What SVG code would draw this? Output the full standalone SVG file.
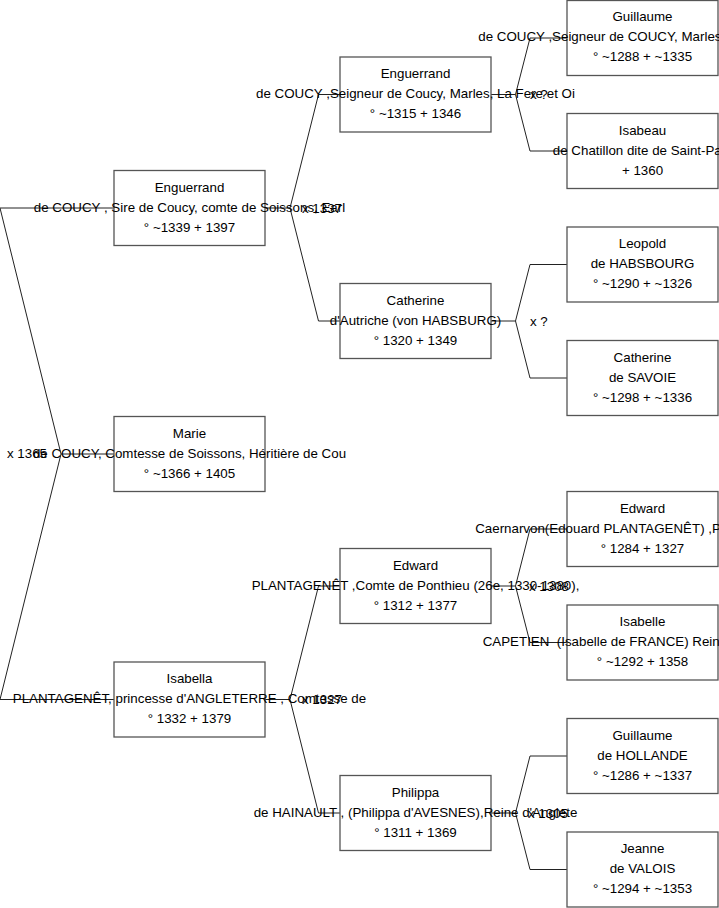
<svg xmlns="http://www.w3.org/2000/svg" width="719" height="908" viewBox="0 0 719 908">
<style>
.box{fill:#fff;stroke:#555;stroke-width:1.3}
.c{fill:none;stroke:#222;stroke-width:1}
text{font-family:"Liberation Sans",Arial,sans-serif;font-size:13.33px;fill:#000}
.m{text-anchor:middle}
</style>
<rect width="719" height="908" fill="#fff"/>
<g id="connectors">
<path class="c" d="M114,454 H61 L0,208 H114 M61,454 L0,699.5 H114"/>
<path class="c" d="M265,208 H290 L318.5,94.5 H340 M290,208 L318.5,321 H340"/>
<path class="c" d="M265,699.5 H290 L318.5,586 H340 M290,699.5 L318.5,813 H340"/>
<path class="c" d="M491,94.5 H515.5 L530,38 H567 M515.5,94.5 L530,151 H567"/>
<path class="c" d="M491,321 H515.5 L530,264.5 H567 M515.5,321 L530,378 H567"/>
<path class="c" d="M491,586 H515.5 L530,529 H567 M515.5,586 L530,642.5 H567"/>
<path class="c" d="M491,813 H515.5 L530,756 H567 M515.5,813 L530,869.5 H567"/>
<text x="7" y="458">x 1365</text>
<text x="302" y="212.5">x 1337</text>
<text x="302" y="704">x 1327</text>
<text x="530" y="99">x ?</text>
<text x="530" y="325.5">x ?</text>
<text x="529" y="590.5">x 1308</text>
<text x="528" y="817.5">x 1305</text>
</g>
<g id="n_enguerrand2">
<rect class="box" x="114" y="170.5" width="151" height="75"/>
<text class="m" x="189.5" y="191.5">Enguerrand</text>
<text class="m" x="189.5" y="211.5">de COUCY , Sire de Coucy, comte de Soissons, Earl</text>
<text class="m" x="189.5" y="231.5">° ~1339 + 1397</text>
</g>
<g id="n_marie">
<rect class="box" x="114" y="416.5" width="151" height="75"/>
<text class="m" x="189.5" y="437.5">Marie</text>
<text class="m" x="189.5" y="457.5">de COUCY, Comtesse de Soissons, Héritière de Cou</text>
<text class="m" x="189.5" y="477.5">° ~1366 + 1405</text>
</g>
<g id="n_isabella">
<rect class="box" x="114" y="662" width="151" height="75"/>
<text class="m" x="189.5" y="683">Isabella</text>
<text class="m" x="189.5" y="703">PLANTAGENÊT, princesse d'ANGLETERRE , Comtesse de</text>
<text class="m" x="189.5" y="723">° 1332 + 1379</text>
</g>
<g id="n_enguerrand3">
<rect class="box" x="340" y="57" width="151" height="75"/>
<text class="m" x="415.5" y="78">Enguerrand</text>
<text class="m" x="415.5" y="98">de COUCY ,Seigneur de Coucy, Marles, La Fere et Oi</text>
<text class="m" x="415.5" y="118">° ~1315 + 1346</text>
</g>
<g id="n_catherine3">
<rect class="box" x="340" y="283.5" width="151" height="75"/>
<text class="m" x="415.5" y="304.5">Catherine</text>
<text class="m" x="415.5" y="324.5">d'Autriche (von HABSBURG)</text>
<text class="m" x="415.5" y="344.5">° 1320 + 1349</text>
</g>
<g id="n_edward3">
<rect class="box" x="340" y="548.5" width="151" height="75"/>
<text class="m" x="415.5" y="569.5">Edward</text>
<text class="m" x="415.5" y="589.5">PLANTAGENÊT ,Comte de Ponthieu (26e, 1330-1380),</text>
<text class="m" x="415.5" y="609.5">° 1312 + 1377</text>
</g>
<g id="n_philippa">
<rect class="box" x="340" y="775.5" width="151" height="75"/>
<text class="m" x="415.5" y="796.5">Philippa</text>
<text class="m" x="415.5" y="816.5">de HAINAULT , (Philippa d'AVESNES),Reine d'Anglete</text>
<text class="m" x="415.5" y="836.5">° 1311 + 1369</text>
</g>
<g id="n_guillaume4">
<rect class="box" x="567" y="0.5" width="151" height="75"/>
<text class="m" x="642.5" y="21">Guillaume</text>
<text class="m" x="642.5" y="41">de COUCY ,Seigneur de COUCY, Marles, La Fere et Oi</text>
<text class="m" x="642.5" y="61">° ~1288 + ~1335</text>
</g>
<g id="n_isabeau">
<rect class="box" x="567" y="113.5" width="151" height="75"/>
<text class="m" x="642.5" y="134.5">Isabeau</text>
<text class="m" x="642.5" y="154.5">de Chatillon dite de Saint-Paul</text>
<text class="m" x="642.5" y="174.5">+ 1360</text>
</g>
<g id="n_leopold">
<rect class="box" x="567" y="227" width="151" height="75"/>
<text class="m" x="642.5" y="248">Leopold</text>
<text class="m" x="642.5" y="268">de HABSBOURG</text>
<text class="m" x="642.5" y="288">° ~1290 + ~1326</text>
</g>
<g id="n_catherine4">
<rect class="box" x="567" y="340.5" width="151" height="75"/>
<text class="m" x="642.5" y="361.5">Catherine</text>
<text class="m" x="642.5" y="381.5">de SAVOIE</text>
<text class="m" x="642.5" y="401.5">° ~1298 + ~1336</text>
</g>
<g id="n_edward4">
<rect class="box" x="567" y="491.5" width="151" height="75"/>
<text class="m" x="642.5" y="512.5">Edward</text>
<text class="m" x="642.5" y="532.5">Caernarvon(Edouard PLANTAGENÊT) ,Prince de Galles</text>
<text class="m" x="642.5" y="552.5">° 1284 + 1327</text>
</g>
<g id="n_isabelle">
<rect class="box" x="567" y="605" width="151" height="75"/>
<text class="m" x="642.5" y="626">Isabelle</text>
<text class="m" x="642.5" y="646" xml:space="preserve">CAPETIEN  (Isabelle de FRANCE) Reine d'Angleterre</text>
<text class="m" x="642.5" y="666">° ~1292 + 1358</text>
</g>
<g id="n_guillaume_h">
<rect class="box" x="567" y="718.5" width="151" height="75"/>
<text class="m" x="642.5" y="739.5">Guillaume</text>
<text class="m" x="642.5" y="759.5">de HOLLANDE</text>
<text class="m" x="642.5" y="779.5">° ~1286 + ~1337</text>
</g>
<g id="n_jeanne">
<rect class="box" x="567" y="832" width="151" height="75"/>
<text class="m" x="642.5" y="853">Jeanne</text>
<text class="m" x="642.5" y="873">de VALOIS</text>
<text class="m" x="642.5" y="893">° ~1294 + ~1353</text>
</g>
</svg>
